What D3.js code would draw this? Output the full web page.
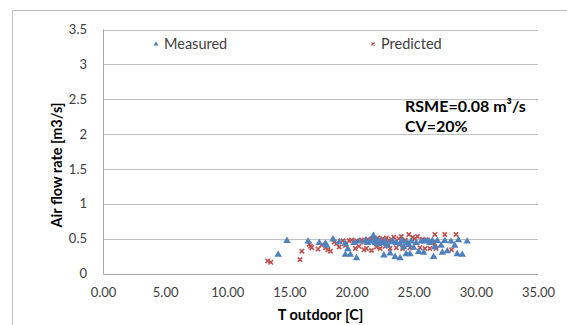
<!DOCTYPE html>
<html>
<head>
<meta charset="utf-8">
<script src="https://cdn.jsdelivr.net/npm/d3@7"></script>
<style>
  body { margin: 0; background: #fff; }
  svg { display: block; font-family: Lato, "Open Sans", sans-serif; }
</style>
</head>
<body>
<svg id="chart" width="567" height="325"></svg>
<script>
// [T outdoor, air flow]
const measured = [
  [14.1, 0.27], [14.8, 0.47], [16.5, 0.46], [17.4, 0.44], [17.9, 0.43], [18.0, 0.40],
  [18.5, 0.49], [19.0, 0.45], [19.5, 0.43], [19.5, 0.27], [19.7, 0.35], [19.9, 0.27],
  [20.4, 0.22], [20.2, 0.44], [20.6, 0.46], [21.1, 0.47], [21.3, 0.44], [21.5, 0.46],
  [21.75, 0.54], [21.8, 0.47], [21.9, 0.44], [22.0, 0.48], [22.1, 0.45], [22.2, 0.42],
  [22.3, 0.47], [22.4, 0.44], [22.6, 0.26], [22.7, 0.46], [22.8, 0.43], [22.9, 0.40],
  [23.1, 0.29], [23.2, 0.45], [23.3, 0.47], [23.5, 0.24], [23.6, 0.44], [23.9, 0.22],
  [23.9, 0.42], [24.0, 0.46], [24.1, 0.47], [24.2, 0.38], [24.4, 0.28], [24.5, 0.44],
  [24.6, 0.41], [24.7, 0.28], [24.8, 0.46], [25.0, 0.37], [25.2, 0.44], [25.4, 0.31],
  [25.6, 0.46], [25.8, 0.30], [25.9, 0.46], [26.1, 0.47], [26.3, 0.44], [26.5, 0.47],
  [26.6, 0.24], [26.7, 0.38], [26.9, 0.47], [27.2, 0.40], [27.3, 0.30], [27.5, 0.47],
  [27.7, 0.32], [28.0, 0.46], [28.3, 0.40], [28.5, 0.28], [28.6, 0.48], [28.9, 0.27],
  [29.3, 0.46]
];

const predicted = [
  [13.25, 0.18], [13.5, 0.16], [15.85, 0.20], [16.0, 0.32], [16.6, 0.42], [16.7, 0.39],
  [16.8, 0.37], [17.3, 0.35], [17.6, 0.41], [17.9, 0.37], [18.1, 0.34], [18.3, 0.32],
  [18.6, 0.45], [18.8, 0.43], [19.0, 0.38], [19.3, 0.47], [19.5, 0.40], [19.8, 0.47],
  [20.0, 0.48], [20.3, 0.36], [20.4, 0.47], [20.6, 0.39], [20.8, 0.48], [21.0, 0.45],
  [21.0, 0.34], [21.2, 0.36], [21.3, 0.49], [21.5, 0.47], [21.6, 0.33], [21.7, 0.50],
  [21.9, 0.46], [22.0, 0.38], [22.1, 0.51], [22.2, 0.48], [22.3, 0.36], [22.5, 0.50],
  [22.6, 0.46], [22.7, 0.39], [22.8, 0.51], [23.0, 0.47], [23.1, 0.36], [23.2, 0.49],
  [23.4, 0.52], [23.5, 0.45], [23.6, 0.37], [23.8, 0.50], [24.0, 0.53], [24.1, 0.36],
  [24.3, 0.48], [24.6, 0.56], [24.7, 0.37], [24.9, 0.52], [25.1, 0.50], [25.3, 0.53],
  [25.5, 0.37], [25.7, 0.49], [25.9, 0.36], [26.1, 0.48], [26.3, 0.36], [26.5, 0.45],
  [26.7, 0.56], [26.7, 0.43], [26.8, 0.36], [27.5, 0.56], [28.05, 0.34], [28.4, 0.56]
];

const xTicks = [0, 5, 10, 15, 20, 25, 30, 35];
const yTicks = [0, 0.5, 1, 1.5, 2, 2.5, 3, 3.5];

const svg = d3.select("#chart");
const plot = { left: 103, right: 538, top: 29.5, bottom: 273.5 };

const x = d3.scaleLinear().domain([0, 35]).range([plot.left, plot.right]);
const y = d3.scaleLinear().domain([0, 3.5]).range([plot.bottom, plot.top]);

// chart area border (only left/top are inside the frame)
svg.append("rect")
  .attr("x", 12.5).attr("y", 10.5)
  .attr("width", 700).attr("height", 500)
  .attr("fill", "none").attr("stroke", "#bfbfbf");

// gridlines
svg.append("g")
  .selectAll("line")
  .data(yTicks)
  .join("line")
  .attr("x1", plot.left).attr("x2", plot.right)
  .attr("y1", d => Math.round(y(d)) + 0.5).attr("y2", d => Math.round(y(d)) + 0.5)
  .attr("stroke", d => d === 0 ? "#a6a6a6" : "#c0c0c0");

svg.append("line")
  .attr("x1", plot.left + 0.5).attr("x2", plot.left + 0.5)
  .attr("y1", plot.top).attr("y2", plot.bottom)
  .attr("stroke", "#a6a6a6");

const yAxis = d3.axisLeft(y).tickValues(yTicks).tickSize(0).tickPadding(16).tickFormat(d3.format("~g"));
const xAxis = d3.axisBottom(x).tickValues(xTicks).tickSize(0).tickPadding(14).tickFormat(d3.format(".2f"));

svg.append("g").attr("transform", `translate(${plot.left},0)`).call(yAxis)
  .call(g => g.select(".domain").remove())
  .selectAll("text").attr("font-size", 13).attr("fill", "#404040").attr("font-family", "Lato, sans-serif");

svg.append("g").attr("transform", `translate(0,${plot.bottom})`).call(xAxis)
  .call(g => g.select(".domain").remove())
  .selectAll("text").attr("font-size", 13).attr("fill", "#404040").attr("font-family", "Lato, sans-serif");

// axis titles
svg.append("text")
  .attr("transform", `translate(62,165) rotate(-90)`)
  .attr("text-anchor", "middle")
  .attr("font-size", 14.5).attr("font-weight", "bold").attr("fill", "#000")
  .text("Air flow rate [m3/s]");

svg.append("text")
  .attr("x", (plot.left + plot.right) / 2).attr("y", 320)
  .attr("text-anchor", "middle")
  .attr("font-size", 14.5).attr("font-weight", "bold").attr("fill", "#000")
  .text("T outdoor [C]");

// markers
const tri = d3.symbol().type(d3.symbolTriangle).size(24);
const cross = d3.symbol().type(d3.symbolX).size(14);

svg.append("g")
  .selectAll("path")
  .data(predicted)
  .join("path")
  .attr("transform", d => `translate(${x(d[0])},${y(d[1])})`)
  .attr("d", cross)
  .attr("fill", "none")
  .attr("stroke", "#c0504d")
  .attr("stroke-width", 1.6);

svg.append("g")
  .selectAll("path")
  .data(measured)
  .join("path")
  .attr("transform", d => `translate(${x(d[0])},${y(d[1])})`)
  .attr("d", tri)
  .attr("fill", "#4f81bd");

// legend
const legend = svg.append("g").attr("font-size", 14.5).attr("fill", "#404040");
legend.append("path").attr("transform", "translate(156,44)")
  .attr("d", d3.symbol().type(d3.symbolTriangle).size(10)).attr("fill", "#4f81bd");
legend.append("text").attr("x", 164).attr("y", 49).text("Measured");
legend.append("path").attr("transform", "translate(373,44)")
  .attr("d", d3.symbol().type(d3.symbolX).size(7)).attr("fill", "none")
  .attr("stroke", "#c0504d").attr("stroke-width", 1.2);
legend.append("text").attr("x", 381).attr("y", 49).text("Predicted");

// annotation
const note = svg.append("text").attr("x", 405).attr("font-size", 16).attr("font-weight", "bold").attr("fill", "#000");
note.append("tspan").attr("x", 405).attr("y", 111.5).text("RSME=0.08 m³/s");
note.append("tspan").attr("x", 405).attr("y", 131.5).text("CV=20%");
</script>
</body>
</html>
